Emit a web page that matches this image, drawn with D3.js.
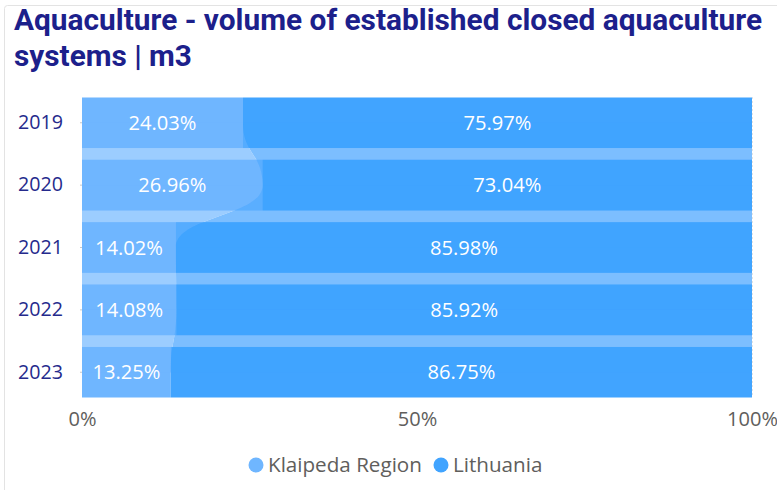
<!DOCTYPE html>
<html><head><meta charset="utf-8">
<script src="https://cdn.jsdelivr.net/npm/d3@7"></script>
<style>html,body{margin:0;padding:0;background:#fff;overflow:hidden}</style>
</head><body>
<svg id="c" width="777" height="490"></svg>
<script>
const years = ["2019","2020","2021","2022","2023"];
const klaipeda = [24.03, 26.96, 14.02, 14.08, 13.25];
const lithuania = [75.97, 73.04, 85.98, 85.92, 86.75];
const seriesNames = ["Klaipeda Region","Lithuania"];
const xTicks = [0, 50, 100];
const titleLines = ["Aquaculture - volume of established closed aquaculture","systems | m3"];

const colors = ["#6fb6ff","#41a4ff"];
const ribbonColors = ["#9ccdff","#7cbeff"];

const svg = d3.select("#c");

function fitSize(family, weight, str, target, base){
  const t = svg.append("text").attr("font-family",family).attr("font-weight",weight)
    .attr("font-size",base).text(str);
  const w = t.node().getComputedTextLength();
  t.remove();
  return base*target/w;
}
const lblFont = "'Open Sans', 'Noto Sans', sans-serif";
const titleFont = "Roboto, 'Liberation Sans', sans-serif";

// border
svg.append("rect").attr("x",4.5).attr("y",5.5).attr("width",800).attr("height",500)
  .attr("rx",3).attr("fill","none").attr("stroke","#e3e3e3");

// title
const tSize = fitSize(titleFont, 700, titleLines[1], 178, 22);
svg.append("text").attr("x",14).attr("y",30).attr("font-family",titleFont).attr("font-weight",700)
  .attr("font-size",tSize).attr("fill","#1c208b")
  .attr("textLength",748).attr("lengthAdjust","spacingAndGlyphs").text(titleLines[0]);
svg.append("text").attr("x",14).attr("y",66).attr("font-family",titleFont).attr("font-weight",700)
  .attr("font-size",tSize).attr("fill","#1c208b").text(titleLines[1]);

const x = d3.scaleLinear().domain([0,100]).range([82,752]);
const y = d3.scaleBand().domain(years).range([97.5,397.5]).paddingInner(0.19).paddingOuter(0);

const data = years.map((yr,i)=>({yr, vals:[klaipeda[i], lithuania[i]]}));
const stacked = data.map(d=>{
  let c=0; return d.vals.map((v,s)=>{const r={s, x0:c, x1:c+v, v, yr:d.yr}; c+=v; return r;});
});

// gridline at 100%
svg.append("line").attr("x1",x(100)+0.5).attr("x2",x(100)+0.5).attr("y1",y.range()[0]).attr("y2",y.range()[1])
  .attr("stroke","#c8c8c8").attr("stroke-dasharray","1,3");

// ribbons path generator: from mid of bar i to mid of bar i+1
function ribbonPath(i, s){
  const a = stacked[i][s], b = stacked[i+1][s];
  const y0 = y(years[i]) + y.bandwidth()/2, y1 = y(years[i+1]) + y.bandwidth()/2, ym=(y0+y1)/2;
  const L0=x(a.x0), R0=x(a.x1), L1=x(b.x0), R1=x(b.x1);
  return `M${L0},${y0}L${R0},${y0}C${R0},${ym} ${R1},${ym} ${R1},${y1}L${L1},${y1}C${L1},${ym} ${L0},${ym} ${L0},${y0}Z`;
}
const ribbonData = [];
for(let i=0;i<years.length-1;i++) for(let s=0;s<2;s++) ribbonData.push({i,s});

// layer 1: ribbons opaque light
svg.append("g").selectAll("path").data(ribbonData).join("path")
  .attr("d",d=>ribbonPath(d.i,d.s)).attr("fill",d=>ribbonColors[d.s]);

// layer 2: bars
svg.append("g").selectAll("g").data(stacked).join("g").selectAll("rect").data(d=>d).join("rect")
  .attr("x",d=>x(d.x0)).attr("width",d=>x(d.x1)-x(d.x0))
  .attr("y",d=>y(d.yr)).attr("height",y.bandwidth()).attr("fill",d=>colors[d.s]);

// layer 3: ribbon overlay inside bars
const clip = svg.append("defs").append("clipPath").attr("id","barsClip");
clip.selectAll("rect").data(years).join("rect").attr("x",x(0)).attr("width",x(100)-x(0))
  .attr("y",d=>y(d)).attr("height",y.bandwidth());
svg.append("g").attr("clip-path","url(#barsClip)").selectAll("path").data(ribbonData).join("path")
  .attr("d",d=>ribbonPath(d.i,d.s)).attr("fill",d=>colors[d.s]).attr("fill-opacity",0.45);

// data labels
const dlSize = fitSize(lblFont, 400, "24.03%", 68, 20);
svg.append("g").selectAll("g").data(stacked).join("g").selectAll("text").data(d=>d).join("text")
  .attr("x",d=>(x(d.x0)+x(d.x1))/2).attr("y",d=>y(d.yr)+y.bandwidth()/2)
  .attr("dy","0.36em").attr("text-anchor","middle").attr("font-family",lblFont)
  .attr("font-size",dlSize).attr("fill","#ffffff").text(d=>d.v.toFixed(2)+"%");

// year axis
const ySize = fitSize(lblFont, 400, "2019", 45, 20);
const yAxis = svg.append("g").attr("transform",`translate(${x(0)},0)`)
  .call(d3.axisLeft(y).tickSize(2).tickPadding(17));
yAxis.select(".domain").remove();
yAxis.selectAll(".tick line").attr("stroke","#c8c8c8");
yAxis.selectAll(".tick text").attr("font-family",lblFont).attr("font-size",ySize).attr("fill","#252a8c");

// x axis
const xSize = fitSize(lblFont, 400, "50%", 39.5, 20);
const xAxis = svg.append("g").attr("transform",`translate(0,${y.range()[1]})`)
  .call(d3.axisBottom(x).tickValues(xTicks).tickFormat(d=>d+"%").tickSize(0).tickPadding(14));
xAxis.select(".domain").remove();
xAxis.selectAll(".tick text").attr("font-family",lblFont).attr("font-size",xSize).attr("fill","#605e5c");

// legend
const lgSize = fitSize(lblFont, 400, "Klaipeda Region", 154, 20);
const legX = [256, 441];
const lg = svg.append("g").selectAll("g").data(seriesNames).join("g");
lg.append("circle").attr("cx",(d,i)=>legX[i]).attr("cy",465).attr("r",7.5).attr("fill",(d,i)=>colors[i]);
lg.append("text").attr("x",(d,i)=>legX[i]+12).attr("y",465).attr("dy","0.36em")
  .attr("font-family",lblFont).attr("font-size",lgSize).attr("fill","#605e5c").text(d=>d);
</script>
</body></html>
